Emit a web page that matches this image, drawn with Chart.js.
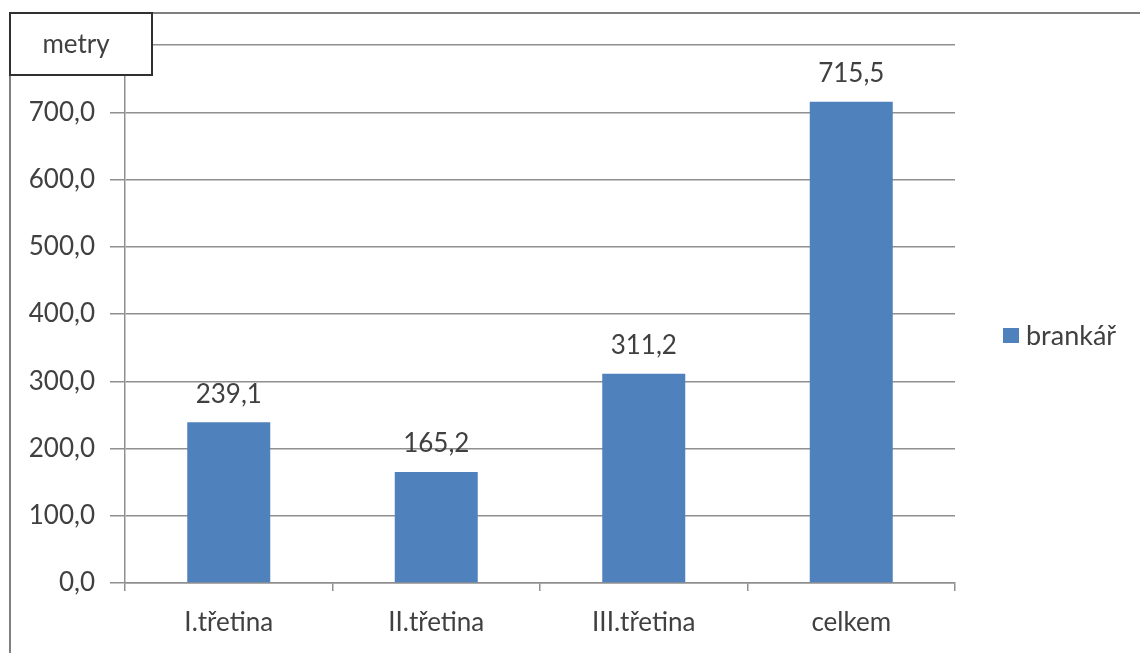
<!DOCTYPE html>
<html>
<head>
<meta charset="utf-8">
<script src="https://cdn.jsdelivr.net/npm/chart.js@4/dist/chart.umd.min.js"></script>
<style>
  html, body { margin: 0; padding: 0; background: #ffffff; }
  #wrap { width: 1140px; height: 653px; position: relative; }
</style>
</head>
<body>
<div id="wrap"><canvas id="c" width="1140" height="653"></canvas></div>
<script>
// Distance covered per period (metres)
const categories = ['I.třetina', 'II.třetina', 'III.třetina', 'celkem'];
const seriesName = 'brankář';
const values = [239.1, 165.2, 311.2, 715.5];
const yTicks = [0, 100, 200, 300, 400, 500, 600, 700, 800];
const unitLabel = 'metry';

const FONT = 'Lato, "Open Sans", sans-serif';
const FS = 26;
const TEXT = '#404040';
const BAR = '#4F81BD';
const GRID = '#8f8f8f';

const fmt = v => v.toFixed(1).replace('.', ',');

// Frame, unit box, value labels and legend
const decorations = {
  id: 'decorations',
  afterDraw(chart) {
    const ctx = chart.ctx;
    ctx.save();
    // outer frame (top and left edges)
    ctx.strokeStyle = '#7f7f7f';
    ctx.lineWidth = 2;
    ctx.beginPath();
    ctx.moveTo(1140, 13);
    ctx.lineTo(10, 13);
    ctx.lineTo(10, 653);
    ctx.stroke();

    // unit box in the top-left corner
    ctx.fillStyle = '#ffffff';
    ctx.fillRect(10, 13, 142, 62);
    ctx.strokeStyle = '#303030';
    ctx.lineWidth = 2;
    ctx.strokeRect(10, 13, 142, 62);
    ctx.fillStyle = TEXT;
    ctx.font = FS + 'px ' + FONT;
    ctx.textAlign = 'center';
    ctx.textBaseline = 'middle';
    ctx.fillText(unitLabel, 76, 45);

    // values above bars
    const meta = chart.getDatasetMeta(0);
    meta.data.forEach((bar, i) => {
      ctx.fillText(fmt(chart.data.datasets[0].data[i]), bar.x, bar.y - 28);
    });

    // legend
    ctx.fillStyle = BAR;
    ctx.fillRect(1003, 328, 16, 15);
    ctx.fillStyle = TEXT;
    ctx.font = '27px ' + FONT;
    ctx.textAlign = 'left';
    ctx.fillText(chart.data.datasets[0].label, 1026, 336);
    ctx.restore();
  }
};

new Chart(document.getElementById('c'), {
  type: 'bar',
  data: {
    labels: categories,
    datasets: [{
      label: seriesName,
      data: values,
      backgroundColor: BAR,
      borderWidth: 0,
      categoryPercentage: 1.0,
      barPercentage: 0.4
    }]
  },
  options: {
    responsive: false,
    animation: false,
    devicePixelRatio: 1,
    layout: { padding: { left: 0, right: 185, top: 45, bottom: 0 } },
    plugins: {
      legend: { display: false },
      tooltip: { enabled: false }
    },
    scales: {
      x: {
        grid: { display: true, drawOnChartArea: false, offset: true, tickLength: 8, color: GRID, lineWidth: 1.5 },
        border: { display: true, color: GRID, width: 1.5 },
        ticks: { color: TEXT, font: { family: FONT, size: FS }, padding: 16 },
        afterFit(s) { s.height = 653 - 583; }
      },
      y: {
        min: 0,
        max: 800,
        afterBuildTicks(s) { s.ticks = yTicks.map(v => ({ value: v })); },
        grid: { color: GRID, lineWidth: 1.5, tickLength: 15 },
        border: { display: true, color: GRID, width: 1.5 },
        ticks: {
          color: TEXT,
          font: { family: FONT, size: FS },
          padding: 15,
          callback: v => fmt(v)
        },
        afterFit(s) { s.width = 125; }
      }
    }
  },
  plugins: [decorations]
});
</script>
</body>
</html>
